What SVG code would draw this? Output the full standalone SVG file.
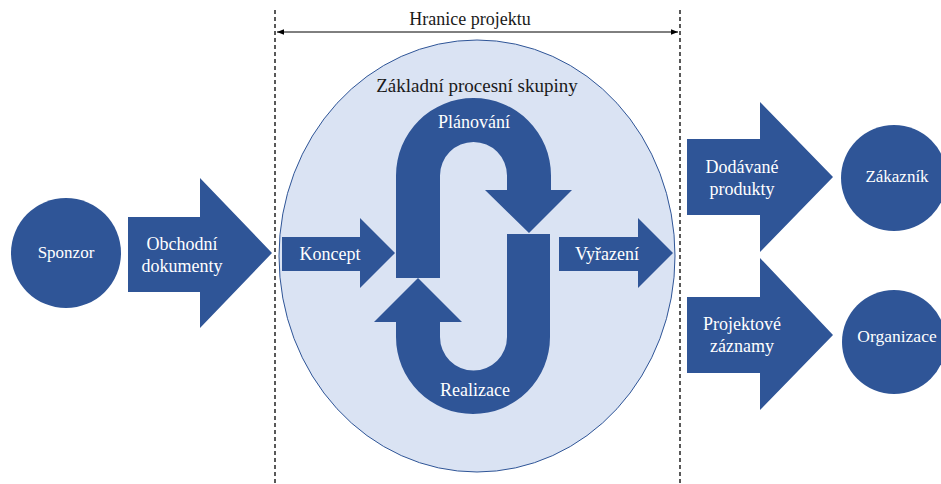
<svg xmlns="http://www.w3.org/2000/svg" width="941" height="484" viewBox="0 0 941 484">
  <defs>
    <style>
      .shape { fill: #2F5597; }
      text { font-family: 'Liberation Serif', 'DejaVu Serif', serif; }
      .lbl { font-size: 18px; fill: #FFFFFF; text-anchor: middle; }
      .dark { fill: #1A1A1A; }
      .bound { stroke: #000000; stroke-width: 1.3; stroke-dasharray: 4 3; fill: none; }
    </style>
    <marker id="tip" viewBox="0 0 10 10" refX="10" refY="5" markerWidth="7" markerHeight="7" orient="auto-start-reverse" markerUnits="userSpaceOnUse">
      <path d="M0,1 L10,5 L0,9 Z" fill="#000000"/>
    </marker>
  </defs>
  <rect width="941" height="484" fill="#FFFFFF"/>

  <!-- project boundary -->
  <g id="connectors">
    <line class="bound" x1="275" y1="10" x2="275" y2="484"/>
    <line class="bound" x1="680" y1="10" x2="680" y2="484"/>
    <line x1="277" y1="32" x2="678" y2="32" stroke="#000000" stroke-width="1" marker-start="url(#tip)" marker-end="url(#tip)"/>
    <text class="lbl dark" x="470" y="25" font-family="Liberation Serif, DejaVu Serif, serif" style="font-size:18px">Hranice projektu</text>
  </g>

  <!-- core process groups -->
  <g id="core">
    <ellipse cx="477" cy="256" rx="198" ry="216" fill="#DAE3F3" stroke="#2F5597" stroke-width="1"/>
    <text class="lbl dark" x="477" y="92" font-family="Liberation Serif, DejaVu Serif, serif" style="font-size:19px">Základní procesní skupiny</text>
  </g>

  <g id="planovani">
    <path class="shape" d="M396,278 V175.5 A77.5,77.5 0 0 1 551,175.5 V190 H572 L529,233 L485,190 H507 V175.5 A33.5,33.5 0 0 0 440,175.5 V278 Z"/>
    <text class="lbl" x="474" y="128" font-family="Liberation Serif, DejaVu Serif, serif">Plánování</text>
  </g>

  <g id="realizace">
    <path class="shape" d="M550,234 V337 A77,77 0 0 1 396,337 V322 H374 L418,278 L462,322 H440 V337 A33.5,33.5 0 0 0 507,337 V234 Z"/>
    <text class="lbl" x="475" y="396" font-family="Liberation Serif, DejaVu Serif, serif">Realizace</text>
  </g>

  <g id="koncept">
    <path class="shape" d="M282,237 H360 V218 L395,253 L360,288 V271 H282 Z"/>
    <text class="lbl" x="330" y="260" font-family="Liberation Serif, DejaVu Serif, serif">Koncept</text>
  </g>

  <g id="vyrazeni">
    <path class="shape" d="M559,237 H638 V218 L673,253 L638,288 V271 H559 Z"/>
    <text class="lbl" x="607" y="260" font-family="Liberation Serif, DejaVu Serif, serif">Vyřazení</text>
  </g>

  <!-- inputs -->
  <g id="sponzor">
    <circle class="shape" cx="66" cy="253" r="55"/>
    <text class="lbl" x="66" y="258" font-family="Liberation Serif, DejaVu Serif, serif" style="font-size:17px">Sponzor</text>
  </g>

  <g id="obchodni-dokumenty">
    <path class="shape" d="M128,217 H200 V178 L272,253 L200,328 V292 H128 Z"/>
    <text class="lbl" x="182" y="250" font-family="Liberation Serif, DejaVu Serif, serif">Obchodní</text>
    <text class="lbl" x="182" y="272" font-family="Liberation Serif, DejaVu Serif, serif">dokumenty</text>
  </g>

  <!-- outputs -->
  <g id="dodavane-produkty">
    <path class="shape" d="M687,139 H760 V102 L833,177 L760,252 V215 H687 Z"/>
    <text class="lbl" x="742" y="173" font-family="Liberation Serif, DejaVu Serif, serif">Dodávané</text>
    <text class="lbl" x="742" y="195" font-family="Liberation Serif, DejaVu Serif, serif">produkty</text>
  </g>

  <g id="projektove-zaznamy">
    <path class="shape" d="M687,297 H760 V258 L833,335 L760,410 V373 H687 Z"/>
    <text class="lbl" x="742" y="330" font-family="Liberation Serif, DejaVu Serif, serif">Projektové</text>
    <text class="lbl" x="742" y="352" font-family="Liberation Serif, DejaVu Serif, serif">záznamy</text>
  </g>

  <g id="zakaznik">
    <circle class="shape" cx="894" cy="178" r="53"/>
    <text class="lbl" x="897" y="182" font-family="Liberation Serif, DejaVu Serif, serif" style="font-size:17px">Zákazník</text>
  </g>

  <g id="organizace">
    <circle class="shape" cx="894" cy="342" r="52"/>
    <text class="lbl" x="897" y="342" font-family="Liberation Serif, DejaVu Serif, serif" style="font-size:17.5px">Organizace</text>
  </g>
</svg>
